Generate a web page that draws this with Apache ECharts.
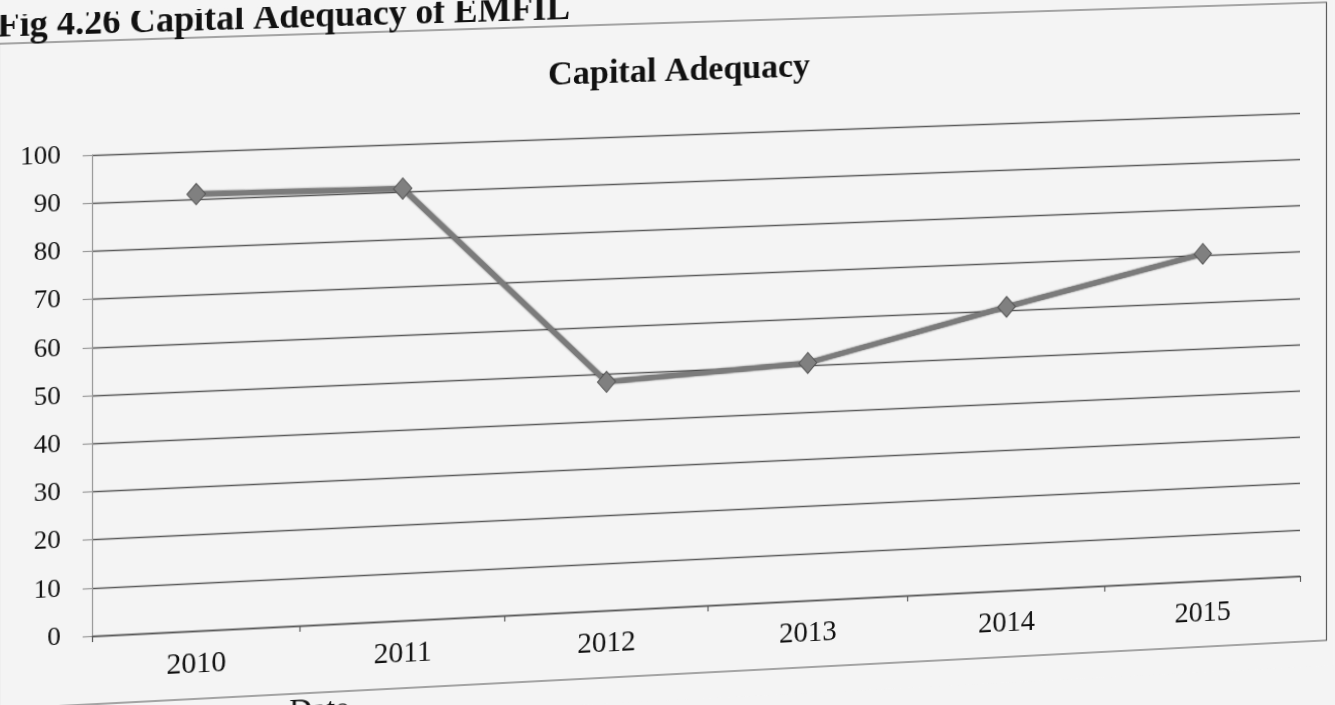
<!DOCTYPE html>
<html>
<head>
<meta charset="utf-8">
<title>Capital Adequacy</title>
<script src="https://cdn.jsdelivr.net/npm/echarts@6/dist/echarts.min.js"></script>
<style>
  html, body { margin: 0; padding: 0; width: 1335px; height: 705px; overflow: hidden; background: #f4f4f4; }
  #page { position: absolute; left: 0; top: 0; width: 1335px; height: 705px; transform-origin: 0 0; }
</style>
</head>
<body>
<div id="page"></div>
<script>
// Capital adequacy ratio by year
const categories = ['2010', '2011', '2012', '2013', '2014', '2015'];
const capitalAdequacy = [91.1, 90.7, 48.3, 50.5, 60.7, 70.4];
const yMin = 0, yMax = 100, yStep = 10;

const figureHeading = 'Fig 4.26 Capital Adequacy of EMFIL';
const chartTitle = 'Capital Adequacy';
const xAxisTitle = 'Date';

// The printed page sits slightly tilted: map the flat plot corners onto the tilted ones.
const FLAT_CORNERS = [[92, 140], [1300, 140], [92, 612], [1300, 612]];
const TILTED_CORNERS = [[92, 155], [1300, 113], [92, 636], [1300, 576]];

function solveHomography(src, dst) {
  const A = [], b = [];
  for (let i = 0; i < 4; i++) {
    const [x, y] = src[i], [X, Y] = dst[i];
    A.push([x, y, 1, 0, 0, 0, -x * X, -y * X]); b.push(X);
    A.push([0, 0, 0, x, y, 1, -x * Y, -y * Y]); b.push(Y);
  }
  const n = 8;
  for (let c = 0; c < n; c++) {
    let p = c;
    for (let r = c + 1; r < n; r++) if (Math.abs(A[r][c]) > Math.abs(A[p][c])) p = r;
    [A[c], A[p]] = [A[p], A[c]]; [b[c], b[p]] = [b[p], b[c]];
    for (let r = 0; r < n; r++) {
      if (r === c) continue;
      const f = A[r][c] / A[c][c];
      for (let k = c; k < n; k++) A[r][k] -= f * A[c][k];
      b[r] -= f * b[c];
    }
  }
  return b.map((v, i) => v / A[i][i]);
}

const h = solveHomography(FLAT_CORNERS, TILTED_CORNERS);
const page = document.getElementById('page');
page.style.transform = 'matrix3d(' + [h[0], h[3], 0, h[6], h[1], h[4], 0, h[7], 0, 0, 1, 0, h[2], h[5], 0, 1].join(',') + ')';

const SERIF = '"Liberation Serif", "Times New Roman", serif';
const chart = echarts.init(page, null, { renderer: 'canvas' });

chart.setOption({
  backgroundColor: '#f4f4f4',
  animation: false,
  title: {
    text: chartTitle,
    left: 668,
    top: 60,
    textAlign: 'center',
    padding: 0,
    textStyle: { fontFamily: SERIF, fontSize: 34, fontWeight: 'bold', color: '#111' }
  },
  grid: { left: 92, right: 35, top: 140, bottom: 93 },
  xAxis: {
    type: 'category',
    data: categories,
    boundaryGap: true,
    axisLine: { lineStyle: { color: '#5a5a5a', width: 1.3 } },
    axisTick: { show: true, length: 6, lineStyle: { color: '#5a5a5a', width: 1.2 } },
    axisLabel: { fontFamily: SERIF, fontSize: 29, color: '#111', margin: 19 },
    splitLine: { show: false }
  },
  yAxis: {
    type: 'value',
    min: yMin,
    max: yMax,
    interval: yStep,
    axisLine: { show: true, lineStyle: { color: '#9a9a9a', width: 1.2 } },
    axisTick: { show: true, length: 9, lineStyle: { color: '#9a9a9a', width: 1.2 } },
    axisLabel: { fontFamily: SERIF, fontSize: 26, color: '#111', margin: 30 },
    splitLine: { lineStyle: { color: '#5a5a5a', width: 1.3 } }
  },
  series: [{
    type: 'line',
    data: capitalAdequacy,
    symbol: 'diamond',
    symbolSize: [18, 21],
    lineStyle: { color: '#7b7b7b', width: 5, shadowColor: 'rgba(30,30,30,0.85)', shadowBlur: 2 },
    itemStyle: { color: '#808080', borderColor: '#555', borderWidth: 1 },
    z: 5
  }],
  graphic: [
    {
      type: 'rect',
      shape: { x: 2.5, y: 28, width: 1325, height: 651 },
      style: { fill: 'none', stroke: '#555', lineWidth: 1.2 },
      silent: true
    },
    {
      type: 'text',
      x: 1, y: 12,
      style: { text: figureHeading, font: 'bold 35px ' + SERIF, fill: '#111', align: 'left', verticalAlign: 'middle' },
      silent: true
    },
    {
      type: 'text',
      x: 283, y: 698,
      style: { text: xAxisTitle, font: '31px ' + SERIF, fill: '#111', align: 'left', verticalAlign: 'middle' },
      silent: true
    }
  ]
});
</script>
</body>
</html>
